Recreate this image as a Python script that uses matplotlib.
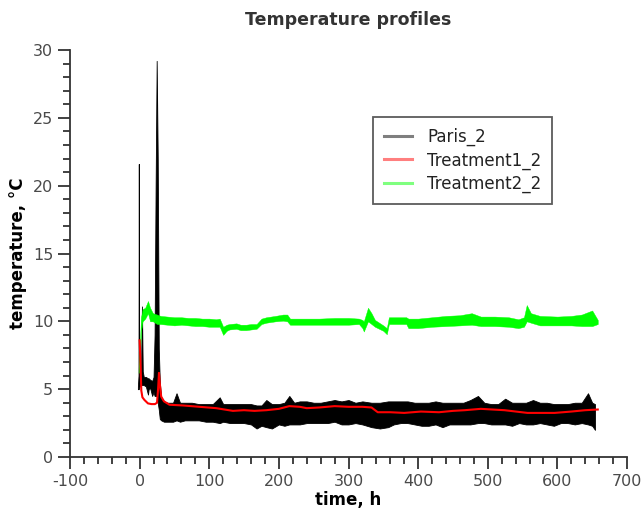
import matplotlib
matplotlib.use("Agg")
import matplotlib.pyplot as plt
from matplotlib.lines import Line2D
from matplotlib.ticker import MultipleLocator

plt.rcParams["axes.unicode_minus"] = False

# ---- data (envelopes of the noisy records) ----
black_t = [-2.5, -1.6, -1.2, -0.8, 0, 2, 3.3, 4.5, 6, 9, 12, 13, 15, 18, 20, 21.5, 23, 24.5, 26,
           27.5, 29, 31, 35, 40, 48, 53, 58, 65, 75, 85, 95, 105, 115, 120, 130, 140, 150, 160,
           168, 175, 182, 190, 200, 208, 215, 222, 230, 240, 250, 260, 270, 280, 290, 300, 310,
           320, 333, 345, 357, 365, 375, 385, 395, 405, 415, 425, 435, 445, 455, 465, 475, 486,
           495, 505, 515, 525, 535, 545, 555, 565, 575, 585, 595, 605, 615, 625, 635, 644, 650, 654]
black_low = [5.0, 5.0, 5.0, 5.1, 5.2, 5.4, 5.3, 5.3, 5.3, 5.2, 4.6, 5.0, 5.1, 4.5, 4.8, 4.5, 4.5, 4.5, 4.0,
             3.5, 2.8, 2.7, 2.6, 2.6, 2.6, 2.7, 2.6, 2.7, 2.7, 2.7, 2.6, 2.6, 2.5, 2.6, 2.5, 2.5, 2.5, 2.4,
             2.1, 2.3, 2.2, 2.1, 2.4, 2.3, 2.4, 2.4, 2.4, 2.5, 2.5, 2.5, 2.5, 2.6, 2.4, 2.4, 2.5,
             2.4, 2.2, 2.1, 2.2, 2.4, 2.5, 2.5, 2.4, 2.3, 2.3, 2.4, 2.2, 2.4, 2.4, 2.4, 2.4, 2.5,
             2.5, 2.4, 2.4, 2.4, 2.3, 2.5, 2.4, 2.4, 2.5, 2.4, 2.3, 2.5, 2.5, 2.4, 2.5, 2.4, 2.3, 2.0]
black_high = [5.2, 6.0, 21.6, 7.0, 6.5, 6.3, 11.1, 6.3, 5.9, 5.9, 5.8, 5.8, 5.7, 5.6, 5.9, 9.0, 20.0, 29.2, 22.0,
              8.0, 5.5, 4.4, 4.1, 4.0, 4.0, 4.7, 4.0, 4.0, 4.0, 3.9, 3.9, 3.9, 4.4, 3.9, 3.9, 3.9, 3.9, 3.9,
              3.8, 3.8, 4.2, 3.9, 3.9, 4.0, 4.5, 4.0, 4.1, 4.1, 4.0, 4.0, 4.1, 4.2, 4.1, 4.2, 4.0,
              4.1, 4.0, 4.0, 4.1, 4.1, 4.1, 4.1, 4.0, 4.0, 4.0, 4.1, 4.0, 4.0, 4.0, 4.0, 4.2, 4.5,
              4.0, 3.9, 3.9, 4.3, 4.0, 4.0, 4.0, 4.2, 4.0, 4.0, 3.9, 3.9, 3.9, 4.0, 4.0, 4.7, 4.0, 3.9]

red_t = [0, 1, 2.4, 4, 7, 12, 17, 22, 25, 26.5, 27.8, 29, 31, 35, 43, 62, 86, 110, 134, 150, 165,
         182, 200, 215, 230, 240, 258, 280, 300, 320, 333, 342, 360, 380, 404, 430, 450, 467, 490,
         524, 557, 596, 620, 640, 658]
red_v = [8.6, 7.4, 4.9, 4.4, 4.2, 3.95, 3.9, 3.9, 4.0, 5.0, 6.2, 5.4, 4.45, 4.1, 3.85, 3.8, 3.7, 3.6,
         3.4, 3.45, 3.4, 3.45, 3.55, 3.75, 3.7, 3.6, 3.65, 3.75, 3.7, 3.7, 3.65, 3.3, 3.3, 3.25, 3.35,
         3.3, 3.4, 3.45, 3.55, 3.45, 3.25, 3.25, 3.35, 3.45, 3.5]

green_t = [-1.5, 0, 2, 4.3, 8, 12, 15, 19, 25, 30, 40, 50, 60, 70, 80, 90, 100, 110, 115, 120, 125,
           129, 139, 145, 153, 160, 168, 175, 182, 195, 206, 212, 216, 235, 258, 280, 300, 315, 320,
           322, 328, 333, 338, 350, 355, 358, 370, 383, 386, 400, 420, 440, 460, 477, 490, 510, 530,
           544, 552, 556, 562, 575, 600, 620, 635, 650, 658]
green_low = [6.2, 7.0, 9.3, 10.0, 10.2, 10.6, 10.0, 10.0, 9.8, 9.8, 9.75, 9.7, 9.75, 9.7, 9.65, 9.65,
             9.6, 9.6, 9.6, 9.0, 9.3, 9.4, 9.45, 9.35, 9.35, 9.4, 9.45, 9.8, 9.9, 10.0, 10.05, 10.0, 9.75,
             9.75, 9.75, 9.75, 9.75, 9.8, 9.5, 9.25, 10.0, 9.8, 9.6, 9.3, 9.05, 9.8, 9.8, 9.8, 9.5, 9.5,
             9.6, 9.65, 9.7, 9.75, 9.65, 9.65, 9.6, 9.5, 9.6, 10.0, 9.9, 9.7, 9.7, 9.7, 9.65, 9.65, 9.8]
green_high = [6.5, 8.0, 10.3, 10.9, 11.0, 11.5, 11.0, 10.6, 10.5, 10.4, 10.35, 10.3, 10.3, 10.25, 10.25,
              10.2, 10.2, 10.15, 10.2, 9.6, 9.75, 9.8, 9.85, 9.75, 9.75, 9.8, 9.8, 10.2, 10.3, 10.4, 10.5,
              10.5, 10.2, 10.2, 10.2, 10.25, 10.25, 10.2, 10.1, 10.0, 11.0, 10.6, 10.1, 9.7, 9.5, 10.3,
              10.3, 10.3, 10.2, 10.2, 10.3, 10.4, 10.45, 10.6, 10.35, 10.35, 10.3, 10.15, 10.3, 11.2,
              10.6, 10.4, 10.35, 10.4, 10.5, 10.8, 10.1]

series_names = ["Paris_2", "Treatment1_2", "Treatment2_2"]
series_colors = ["#000000", "#ff0000", "#00ff00"]

# ---- figure ----
fig = plt.figure(figsize=(6.44, 5.15), dpi=100)
ax = fig.add_axes([70 / 644, 58 / 515, 557 / 644, 407 / 515])

ax.fill_between(black_t, black_low, black_high, color=series_colors[0], linewidth=0.6)
ax.plot(red_t, red_v, color=series_colors[1], linewidth=1.5)
ax.fill_between(green_t, green_low, green_high, color=series_colors[2], linewidth=0.3)

ax.set_xlim(-100, 700)
ax.set_ylim(0, 30)
ax.xaxis.set_major_locator(MultipleLocator(100))
ax.xaxis.set_minor_locator(MultipleLocator(20))
ax.yaxis.set_major_locator(MultipleLocator(5))
ax.yaxis.set_minor_locator(MultipleLocator(1))

for s in ("top", "right"):
    ax.spines[s].set_visible(False)
for s in ("left", "bottom"):
    ax.spines[s].set_color("#333333")
    ax.spines[s].set_linewidth(1.3)

ax.tick_params(which="major", direction="out", length=8.5, width=1.3, color="#333333",
               labelsize=11.5, labelcolor="#4a4a4a")
ax.tick_params(which="minor", direction="out", length=5, width=1.3, color="#333333")

ax.set_title("Temperature profiles", fontsize=12.5, fontweight="bold", color="#333333", pad=18)
ax.set_xlabel("time, h", fontsize=12, fontweight="bold", labelpad=2)
ax.set_ylabel("temperature, \u00b0C", fontsize=12, fontweight="bold", labelpad=4)

handles = [Line2D([0], [0], color=c, alpha=0.5, linewidth=2.2) for c in series_colors]
leg = ax.legend(handles, series_names, loc="upper left", bbox_to_anchor=(0.544, 0.835),
                fontsize=12, frameon=True, fancybox=False, handlelength=1.7,
                borderpad=0.65, labelspacing=0.3, handletextpad=0.9, borderaxespad=0)
leg.get_frame().set_edgecolor("#333333")
leg.get_frame().set_linewidth(1.3)
for t in leg.get_texts():
    t.set_color("#222222")

fig.savefig("out.png", dpi=100)
